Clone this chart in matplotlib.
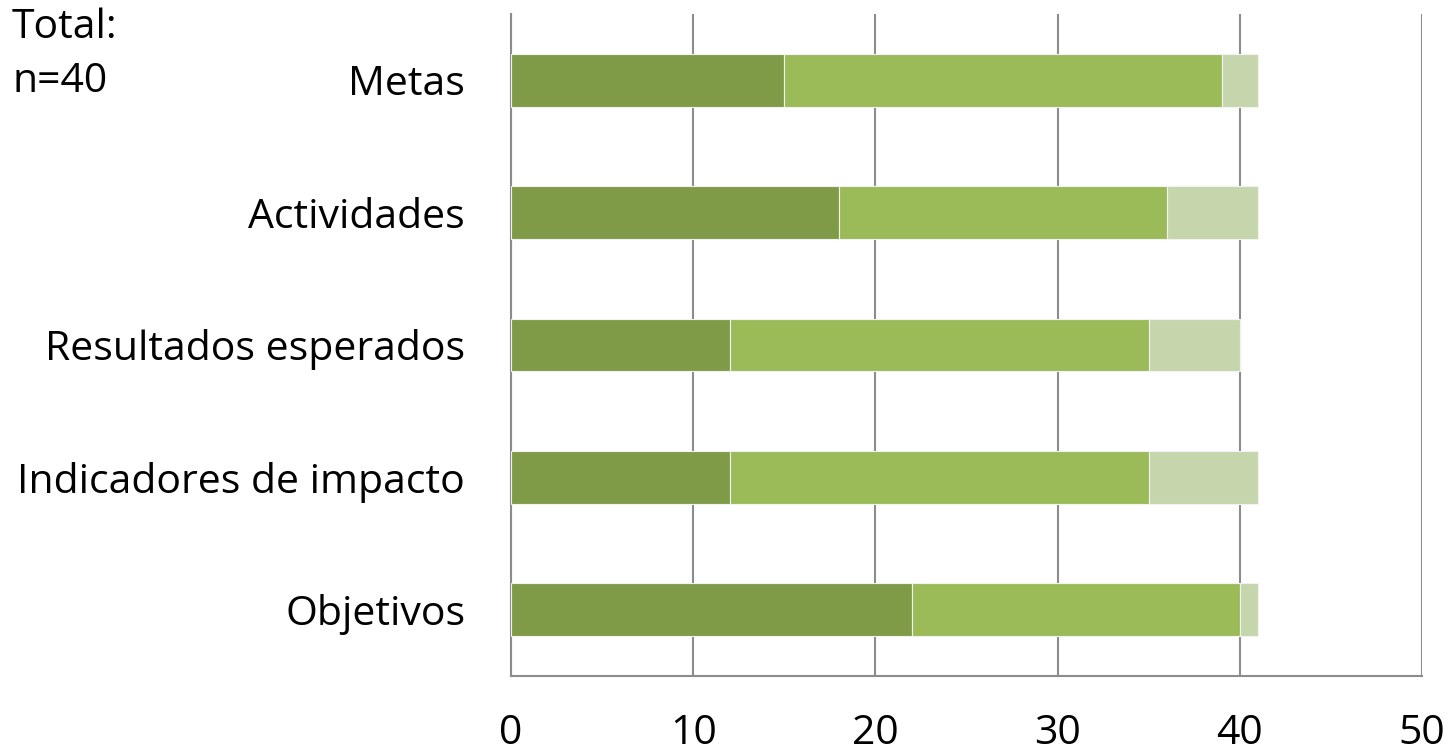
import numpy as np
import matplotlib.pyplot as plt

# Categories listed bottom to top, as drawn on the y axis
categories = ["Objetivos", "Indicadores de impacto", "Resultados esperados",
              "Actividades", "Metas"]
serie_1 = [22, 12, 12, 18, 15]
serie_2 = [18, 23, 23, 18, 24]
serie_3 = [1, 6, 5, 5, 2]
x_ticks = [0, 10, 20, 30, 40, 50]

COLORS = ["#809B48", "#9BBB59", "#C6D6AC"]
FONT = "Open Sans"

fig = plt.figure(figsize=(14.49, 7.56), dpi=100)
ax = fig.add_axes([511 / 1449, 1 - 676 / 756, 911 / 1449, 662 / 756])

y = np.arange(len(categories))
left = np.zeros(len(categories))
for vals, col in zip([serie_1, serie_2, serie_3], COLORS):
    ax.barh(y, vals, left=left, height=0.4, color=col,
            edgecolor="#F2F2F2", linewidth=0.8, zorder=3)
    left += np.array(vals)

ax.set_xlim(0, 50)
ax.set_ylim(-0.5, len(categories) - 0.5)
ax.set_xticks(x_ticks)
ax.set_yticks(y)
ax.set_yticklabels(categories)
ax.xaxis.grid(True, color="#8C8C8C", linewidth=1.5, zorder=0)

for s in ["top", "right"]:
    ax.spines[s].set_visible(False)
for s in ["left", "bottom"]:
    ax.spines[s].set_color("#8C8C8C")
    ax.spines[s].set_linewidth(1.5)

ax.tick_params(axis="both", length=0, labelsize=29.5)
ax.tick_params(axis="x", pad=27)
ax.tick_params(axis="y", pad=33)
for lbl in ax.get_xticklabels() + ax.get_yticklabels():
    lbl.set_family(FONT)

fig.text(12 / 1449, 1 - 8 / 756, "Total:\nn=40", ha="left", va="top",
         fontsize=29.5, family=FONT, linespacing=1.42)

fig.savefig("out.png", dpi=100, facecolor="white")
